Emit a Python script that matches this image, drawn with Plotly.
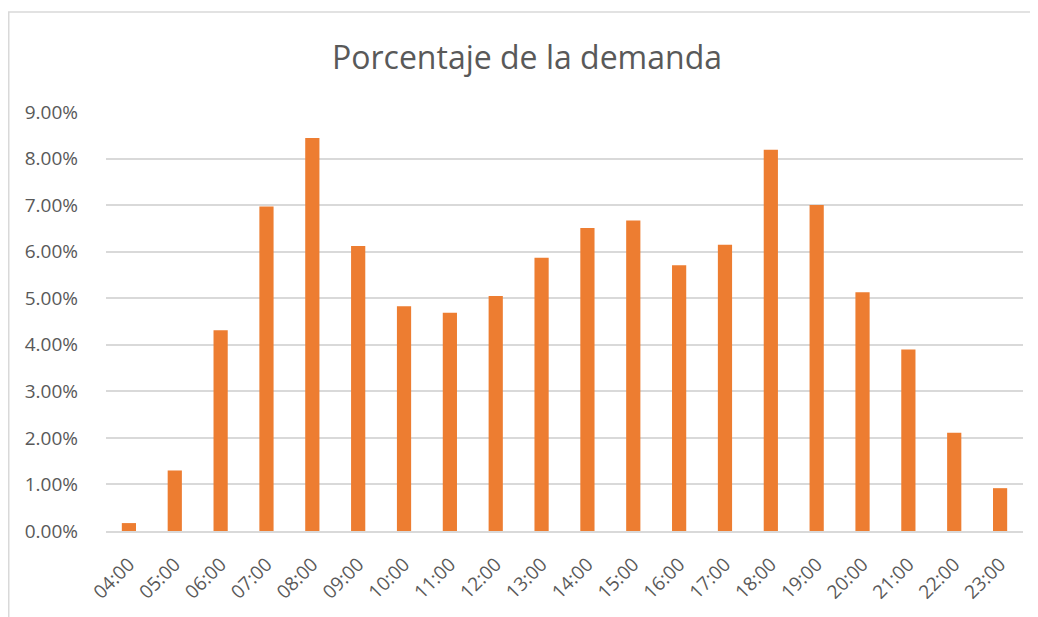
import plotly.graph_objects as go

hours = ["04:00", "05:00", "06:00", "07:00", "08:00", "09:00", "10:00", "11:00", "12:00", "13:00",
         "14:00", "15:00", "16:00", "17:00", "18:00", "19:00", "20:00", "21:00", "22:00", "23:00"]
demand_pct = [0.0017, 0.0130, 0.0431, 0.0697, 0.0844, 0.0612, 0.0483, 0.0469, 0.0505, 0.0587,
              0.0651, 0.0667, 0.0571, 0.0615, 0.0819, 0.0700, 0.0513, 0.0390, 0.0211, 0.0092]

title_text = "Porcentaje de la demanda"
bar_color = "#ED7D31"
text_color = "#595959"
grid_color = "#D9D9D9"

fig = go.Figure(
    go.Bar(x=hours, y=demand_pct, marker=dict(color=bar_color, line=dict(width=0)))
)

# page body has an 8px margin, so figure coordinates are offset by 8px
W, H = 1038, 617
L, R, T, B = 98, 23, 104, 94
pw, ph = W - L - R, H - T - B

fig.update_layout(
    width=W, height=H,
    margin=dict(l=L, r=R, t=T, b=B, autoexpand=False),
    paper_bgcolor="white", plot_bgcolor="white",
    bargap=0.69,
    showlegend=False,
    title=dict(text=title_text, x=0.5, xanchor="center", y=1 - 50 / H, yanchor="middle",
               font=dict(family="Open Sans", size=32, color=text_color)),
    font=dict(family="Open Sans", color=text_color),
    shapes=[dict(type="rect", xref="paper", yref="paper",
                 x0=(0.75 - L) / pw, x1=(W + 5 - L) / pw,
                 y0=-(B + 5) / ph, y1=(H - B - 4) / ph,
                 line=dict(color="#D9D9D9", width=1.5), fillcolor="rgba(0,0,0,0)", layer="below")],
)
fig.update_xaxes(
    type="category", tickangle=-45, automargin=False,
    tickfont=dict(family="Open Sans", size=19, color=text_color),
    showgrid=False, showline=True, linecolor=grid_color, linewidth=1.5,
    ticks="", ticklabelstandoff=13,
)
fig.update_yaxes(
    range=[0, 0.09], dtick=0.01, tickformat=".2%", automargin=False,
    tickfont=dict(family="Open Sans", size=19, color=text_color),
    showgrid=True, gridcolor=grid_color, gridwidth=1.5,
    zeroline=False, showline=False, ticks="", ticklabelstandoff=27,
)

fig.write_html("out.html")
